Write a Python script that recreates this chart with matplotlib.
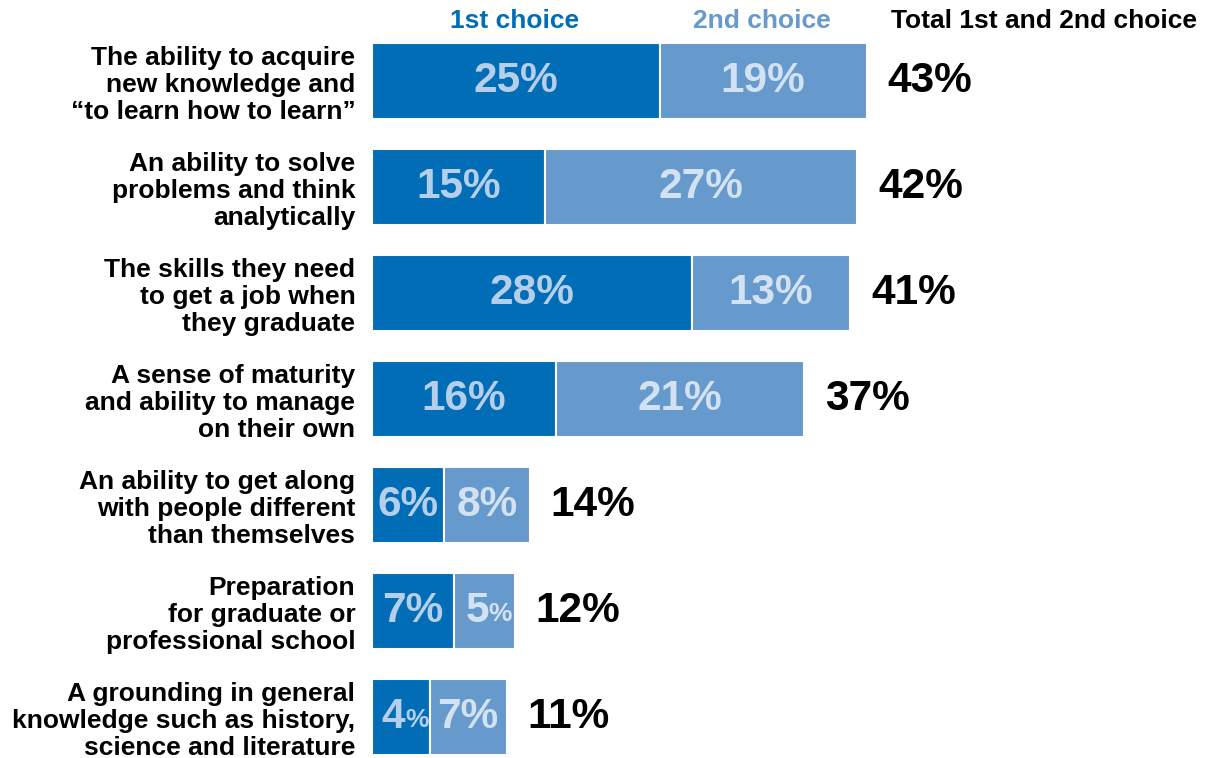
import matplotlib.pyplot as plt

plt.rcParams['font.family'] = ['Liberation Sans', 'DejaVu Sans']

categories = [
    "The ability to acquire\nnew knowledge and\n\u201cto learn how to learn\u201d",
    "An ability to solve\nproblems and think\nanalytically",
    "The skills they need\nto get a job when\nthey graduate",
    "A sense of maturity\nand ability to manage\non their own",
    "An ability to get along\nwith people different\nthan themselves",
    "Preparation\nfor graduate or\nprofessional school",
    "A grounding in general\nknowledge such as history,\nscience and literature",
]
# segment lengths
first_vals = [25.0, 15.0, 27.8, 16.0, 6.3, 7.1, 5.0]
second_vals = [18.0, 27.2, 13.8, 21.6, 7.4, 5.3, 6.7]
# printed labels
first_labels = ["25", "15", "28", "16", "6", "7", "4"]
second_labels = ["19", "27", "13", "21", "8", "5", "7"]
total_labels = ["43", "42", "41", "37", "14", "12", "11"]
small_pct_first = [False, False, False, False, False, False, True]
small_pct_second = [False, False, False, False, False, True, False]

dark = "#006db6"
light = "#6699cc"
dark_txt = "#b5cfea"
light_txt = "#d3e2f2"

W, H = 1205, 758
fig = plt.figure(figsize=(W / 100, H / 100), dpi=100)
ax = fig.add_axes([372 / W, 0, 833 / W, 1])

ys = list(range(len(categories)))
ax.barh(ys, first_vals, height=0.717, color=dark, edgecolor="white", linewidth=1.5)
ax.barh(ys, second_vals, left=first_vals, height=0.717, color=light,
        edgecolor="white", linewidth=1.5)

ax.set_xlim(0, 833 / 11.5)
ax.set_ylim(len(categories) - 1 + 41 / 106, -81 / 106)
ax.set_xticks([])
ax.set_yticks(ys)
ax.set_yticklabels(categories, fontsize=19, fontweight="bold", linespacing=1.15)
ax.tick_params(axis="y", length=0, pad=12)
for s in ax.spines.values():
    s.set_visible(False)


def seg_label(x, y, txt, small, color):
    if small:
        ax.text(x + 0.4, y, txt, ha="right", va="center", fontsize=30.5,
                fontweight="bold", color=color)
        ax.text(x + 0.4, y + 0.03, "%", ha="left", va="center", fontsize=19,
                fontweight="bold", color=color)
    else:
        ax.text(x, y, txt + "%", ha="center", va="center", fontsize=30.5,
                fontweight="bold", color=color)


for i in ys:
    a, b = first_vals[i], second_vals[i]
    seg_label(a / 2, i, first_labels[i], small_pct_first[i], dark_txt)
    seg_label(a + b / 2, i, second_labels[i], small_pct_second[i], light_txt)
    ax.annotate(total_labels[i] + "%", (a + b, i), xytext=(15, 0),
                textcoords="offset points", ha="left", va="center",
                fontsize=30.5, fontweight="bold", color="black")

hy = 1 - 21 / H
fig.text(515 / W, hy, "1st choice", ha="center", va="center", fontsize=19,
         fontweight="bold", color=dark)
fig.text(762 / W, hy, "2nd choice", ha="center", va="center", fontsize=19,
         fontweight="bold", color=light)
fig.text(1044 / W, hy, "Total 1st and 2nd choice", ha="center", va="center",
         fontsize=19, fontweight="bold", color="black")

fig.savefig("out.png", dpi=100)
